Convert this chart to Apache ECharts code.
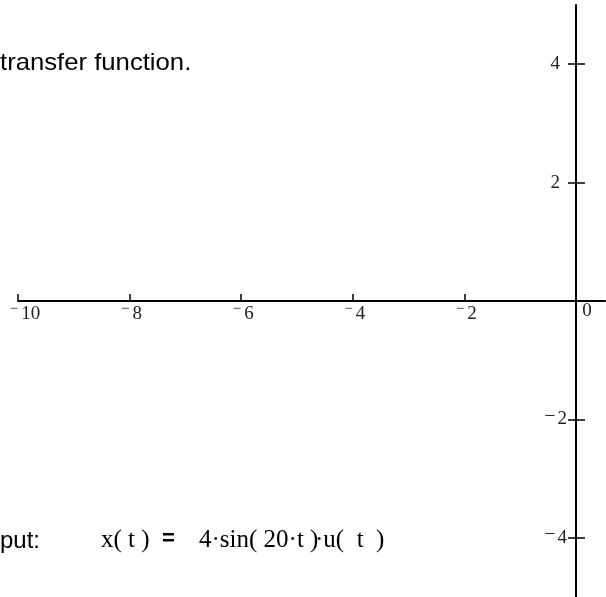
<!DOCTYPE html>
<html>
<head>
<meta charset="utf-8">
<script src="https://cdn.jsdelivr.net/npm/echarts@6/dist/echarts.min.js"></script>
<style>
  html, body { margin: 0; padding: 0; background: #fff; }
  #chart { width: 606px; height: 597px; }
</style>
</head>
<body>
<div id="chart"></div>
<script>
// Axis extents (t on the horizontal axis, amplitude on the vertical axis)
const xRange = [-10, 0.52];
const yRange = [-5, 5];

// Tick marks and tick labels
const xTickValues = [-10, -8, -6, -4, -2];
const xLabelValues = [-10, -8, -6, -4, -2, 0];
const yTickValues = [-4, -2, 2, 4];
const yLabelValues = [-4, -2, 2, 4];

// Text drawn around the plot
const headerText = 'transfer function.';
const inputLead = 'put:';
const inputLhs = 'x( t )';
const inputEq = '=';
const inputRhsA = '4\u00b7sin( 20\u00b7t )';
const inputRhsB = '\u00b7u(  t  )';

const MINUS = '\u2212';
const serif = '"Liberation Serif", "Times New Roman", serif';
const sans = '"Liberation Sans", Arial, sans-serif';

// Plot rectangle
const W = 606, H = 597;
const G = { left: 18, right: 1, top: 5, bottom: 0 };
const gw = W - G.left - G.right;
const gh = H - G.top - G.bottom;

// The axes cross at the origin: shift each one from the grid edge to the zero line
const xAxisShift = -gh * (0 - yRange[0]) / (yRange[1] - yRange[0]);
const yAxisShift = -gw * (0 - xRange[0]) / (xRange[1] - xRange[0]);

function xLabel(v) {
  if (v === 0) return '{z|0}';
  const digits = String(Math.abs(v));
  return (digits.length > 1 ? '{m2|' : '{m1|') + MINUS + '}{d|' + digits + '}';
}
function yLabel(v) {
  if (v > 0) return '{p|' + v + '}';
  return '{m|' + MINUS + '}{d|' + Math.abs(v) + '}';
}

const chart = echarts.init(document.getElementById('chart'), null, { renderer: 'canvas' });

const axisColor = '#000';
const labelColor = '#222';
const tickFont = 19;

chart.setOption({
  animation: false,
  backgroundColor: '#fff',
  grid: { left: G.left, right: G.right, top: G.top, bottom: G.bottom,
    containLabel: false, outerBoundsMode: 'none' },
  xAxis: {
    type: 'value',
    min: xRange[0],
    max: xRange[1],
    position: 'bottom',
    offset: xAxisShift,
    splitLine: { show: false },
    axisLine: { show: true, onZero: false, lineStyle: { color: axisColor, width: 2 } },
    axisTick: { show: true, inside: true, length: 7, customValues: xTickValues,
      lineStyle: { color: axisColor, width: 1.5 } },
    axisLabel: {
      show: true,
      customValues: xLabelValues,
      margin: 1,
      align: 'center',
      fontFamily: serif,
      fontSize: tickFont,
      color: labelColor,
      formatter: xLabel,
      rich: {
        m2: { fontFamily: serif, fontSize: 15, color: labelColor, padding: [0, 3, 10, 14] },
        m1: { fontFamily: serif, fontSize: 15, color: labelColor, padding: [0, 3, 10, 4] },
        d: { fontFamily: serif, fontSize: tickFont, color: labelColor },
        z: { fontFamily: serif, fontSize: tickFont, color: labelColor, padding: [0, 0, 5, 22] }
      }
    }
  },
  yAxis: [
    {
      type: 'value',
      min: yRange[0],
      max: yRange[1],
      position: 'left',
      offset: yAxisShift,
      splitLine: { show: false },
      axisLine: { show: true, onZero: false, lineStyle: { color: axisColor, width: 2 } },
      axisTick: { show: true, inside: false, length: 8, customValues: yTickValues,
        lineStyle: { color: axisColor, width: 1.5 } },
      axisLabel: {
        show: true,
        customValues: yLabelValues,
        margin: 9,
        fontFamily: serif,
        fontSize: tickFont,
        color: labelColor,
        formatter: yLabel,
        rich: {
          m: { fontFamily: serif, fontSize: 20, color: labelColor, padding: [0, 2, 6, 0] },
          d: { fontFamily: serif, fontSize: tickFont, color: labelColor },
          p: { fontFamily: serif, fontSize: tickFont, color: labelColor, padding: [0, 7, 0, 0] }
        }
      }
    },
    {
      // second copy of the vertical axis: tick marks on the right-hand side
      type: 'value',
      min: yRange[0],
      max: yRange[1],
      position: 'left',
      offset: yAxisShift,
      splitLine: { show: false },
      axisLine: { show: false, onZero: false },
      axisTick: { show: true, inside: true, length: 9, customValues: yTickValues,
        lineStyle: { color: axisColor, width: 1.5 } },
      axisLabel: { show: false }
    }
  ],
  series: [
    { type: 'line', xAxisIndex: 0, yAxisIndex: 0, data: [], silent: true }
  ],
  graphic: [
    { type: 'text', left: 0, top: 51, scaleX: 1.07,
      style: { text: headerText, font: '24px ' + sans, fill: '#000' } },
    { type: 'text', left: 0, top: 529, style: { text: inputLead, font: '24px ' + sans, fill: '#000' } },
    { type: 'text', left: 101, top: 528, style: { text: inputLhs, font: '25px ' + serif, fill: '#000' } },
    { type: 'text', left: 162, top: 528, style: { text: inputEq, font: 'bold 22px ' + sans, fill: '#000' } },
    { type: 'text', left: 199, top: 528, style: { text: inputRhsA, font: '25px ' + serif, fill: '#000' } },
    { type: 'text', left: 315, top: 528, style: { text: inputRhsB, font: '25px ' + serif, fill: '#000' } }
  ]
});
</script>
</body>
</html>
